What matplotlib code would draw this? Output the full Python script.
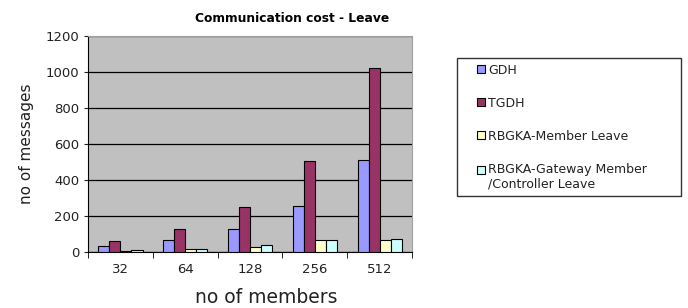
import numpy as np
import matplotlib.pyplot as plt
from matplotlib.patches import Patch, Rectangle
from matplotlib.legend_handler import HandlerPatch

members = ["32", "64", "128", "256", "512"]
gdh = [32, 64, 128, 256, 512]
tgdh = [62, 126, 252, 508, 1022]
member_leave = [5, 18, 30, 66, 66]
gateway_leave = [12, 18, 36, 66, 72]

series = ["GDH", "TGDH", "RBGKA-Member Leave", "RBGKA-Gateway Member\n/Controller Leave"]
colors = ["#9999FF", "#993366", "#FFFFCC", "#CCFFFF"]

fig = plt.figure(figsize=(6.88, 3.08), dpi=100)
ax = fig.add_axes([0.128, 0.182, 0.471, 0.701])
ax.set_facecolor("#C0C0C0")

x = np.arange(len(members))
w = 0.17
for i, vals in enumerate([gdh, tgdh, member_leave, gateway_leave]):
    ax.bar(x + (i - 1.5) * w, vals, w, color=colors[i], edgecolor="black", linewidth=0.8, zorder=3)

ax.set_xlim(-0.5, len(members) - 0.5)
ax.set_ylim(0, 1200)
ax.set_yticks(range(0, 1201, 200))
ax.yaxis.grid(True, color="black", linewidth=0.9, zorder=1)
ax.set_xticks(x)
ax.set_xticklabels(members, fontsize=9.5, family="DejaVu Sans")
ax.set_xticks(np.arange(-0.5, len(members)), minor=True)
ax.tick_params(axis="x", which="major", length=0, pad=8)
ax.tick_params(axis="x", which="minor", length=4, direction="out")
ax.tick_params(axis="y", length=3, labelsize=9.5, colors="#222222")
ax.tick_params(axis="x", colors="#222222")
for s in ["top", "right"]:
    ax.spines[s].set_color("#A0A0A0")
ax.spines["left"].set_color("black")
ax.spines["bottom"].set_color("black")

# titles
fig.text(0.424, 0.94, "Communication cost - Leave", fontsize=8.8, fontweight="bold",
         family="DejaVu Sans", ha="center", va="center")
fig.text(0.387, 0.033, "no of members", fontsize=13.5, family="DejaVu Sans",
         ha="center", va="center", color="#222222")
ax.set_ylabel("no of messages", fontsize=11, family="DejaVu Sans",
              labelpad=8, color="#222222")


# small square at the right end of the handle box (indented like the original)
def square(legend, orig_handle, xdescent, ydescent, width, height, fontsize):
    s = height
    return Rectangle((-xdescent + width - s, -ydescent), s, s)


# same, but lifted to the first line of a two-line label
def square_top(legend, orig_handle, xdescent, ydescent, width, height, fontsize):
    s = height
    return Rectangle((-xdescent + width - s, -ydescent + 0.6 * fontsize), s, s)


handles = [Patch(facecolor=c, edgecolor="black", linewidth=0.8) for c in colors]
hmap = {Patch: HandlerPatch(patch_func=square),
        handles[3]: HandlerPatch(patch_func=square_top)}
leg = fig.legend(handles, series, loc="upper left",
                 bbox_to_anchor=(457 / 688, 0, 224 / 688, 1 - 58 / 308), mode="expand",
                 frameon=True, fancybox=False, edgecolor="black",
                 prop={"family": "DejaVu Sans", "size": 9},
                 handler_map=hmap,
                 handlelength=1.75, handleheight=0.6, handletextpad=0.3,
                 labelspacing=1.6, borderpad=0.45, borderaxespad=0)
leg.get_frame().set_linewidth(1.0)
for t in leg.get_texts():
    t.set_color("#222222")

fig.savefig("out.png", dpi=100)
